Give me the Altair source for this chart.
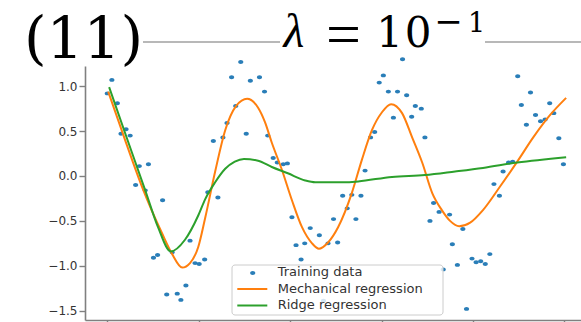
import altair as alt
import pandas as pd

# ---------------- data ----------------
train_x = [0.00, 0.10, 0.22, 0.30, 0.41, 0.50, 0.70, 0.90, 0.62, 0.83,
           1.21, 1.01, 1.10, 1.42, 1.30, 1.53, 1.61, 1.72, 1.81, 1.92,
           2.01, 2.13, 2.20, 2.42, 2.32, 2.53, 2.62, 2.81, 2.72, 2.92,
           3.13, 3.33, 3.44, 3.04, 3.51, 3.63, 3.72, 3.85, 3.94, 4.04,
           4.13, 4.32, 4.24, 4.44, 4.64, 4.73, 4.83, 4.95, 5.04, 5.15,
           5.25, 5.35, 5.44, 5.55, 5.64, 5.76, 5.85, 5.95, 6.04, 6.15,
           6.35, 6.46, 6.55, 6.26, 6.66, 6.74, 6.87, 6.95, 7.06, 7.14,
           7.26, 7.49, 7.35, 7.55, 7.66, 7.78, 7.86, 7.98, 8.07, 8.17,
           8.27, 8.37, 8.46, 8.58, 8.66, 8.78, 8.87, 8.98, 9.06, 9.17,
           9.26, 9.37, 9.48, 9.58, 9.68, 9.77, 9.88, 9.98]
train_y = [0.92, 1.07, 0.81, 0.47, 0.52, 0.45, 0.11, 0.13, -0.10, -0.16,
           -0.27, -0.91, -0.88, -0.85, -1.32, -1.31, -1.38, -1.22, -0.72, -0.97,
           -0.98, -0.93, -0.18, -0.24, 0.39, 0.43, 0.59, 0.78, 1.10, 1.27,
           1.06, 1.10, 0.94, 0.47, 0.45, 0.20, 0.15, 0.13, 0.14, -0.46,
           -0.77, -0.75, -0.93, -0.58, -0.66, -1.39, -0.75, -0.48, -0.74, -0.22,
           -0.36, -0.21, -0.48, -0.22, 0.06, 0.43, 0.49, 1.04, 1.12, 0.94,
           0.94, 1.30, 0.90, 0.65, 0.66, 0.78, 0.75, 0.43, -0.50, -0.30,
           -0.40, -0.43, -1.04, -0.76, -0.99, -0.59, -1.48, -0.92, -0.96, -0.95,
           -0.98, -0.87, -0.09, -0.22, 0.05, 0.15, 0.16, 1.11, 0.79, 0.57,
           0.93, 0.68, 0.61, 0.63, 0.81, 0.70, 0.42, 0.13]

mech_x = [0.02, 0.39, 0.76, 1.20, 1.42, 1.64, 1.81, 1.99, 2.14, 2.36,
          2.58, 2.82, 3.06, 3.30, 3.45, 3.60, 3.82, 4.04, 4.26, 4.48,
          4.63, 4.83, 5.05, 5.35, 5.57, 5.79, 6.01, 6.21, 6.45, 6.67,
          6.89, 7.11, 7.32, 7.50, 7.70, 7.94, 8.22, 8.59, 8.97, 9.32,
          9.69, 10.04]
mech_y = [0.94, 0.40, -0.12, -0.64, -0.87, -1.02, -0.97, -0.79, -0.47, 0.05,
          0.51, 0.78, 0.86, 0.76, 0.60, 0.37, 0.07, -0.27, -0.57, -0.75,
          -0.81, -0.74, -0.57, -0.19, 0.18, 0.51, 0.71, 0.80, 0.70, 0.43,
          0.15, -0.19, -0.38, -0.50, -0.56, -0.52, -0.38, -0.12, 0.16, 0.43,
          0.68, 0.87]

ridge_x = [0.04, 0.45, 0.83, 1.11, 1.39, 1.70, 1.99, 2.14, 2.36, 2.58,
           2.79, 2.99, 3.30, 3.60, 3.95, 4.33, 4.55, 4.87, 5.20, 5.49,
           6.23, 6.95, 7.61, 8.22, 8.97, 10.04]
ridge_y = [0.99, 0.39, -0.16, -0.57, -0.84, -0.71, -0.44, -0.26, -0.07, 0.08,
           0.16, 0.19, 0.17, 0.10, 0.03, -0.05, -0.07, -0.07, -0.07, -0.06,
           -0.01, 0.01, 0.05, 0.09, 0.15, 0.21]

y_ticks = [-1.5, -1.0, -0.5, 0.0, 0.5, 1.0]
x_ticks = [0, 2, 4, 6, 8, 10]
legend_labels = ["Training data", "Mechanical regression", "Ridge regression"]
panel_label = "(11)"
title_var = "λ"
title_eq = "="
title_base_digits = ["1", "0"]
title_exp_sign = "−"
title_exp_num = "1"

# ---------------- styling / layout ----------------
BLUE, ORANGE, GREEN = "#1f77b4", "#ff7f0e", "#2ca02c"
PX0, PY0 = 85, 66          # plot origin on the page
W, H = 496, 254
ELLIPSE = "M-1,0A1,0.75,0,1,0,1,0A1,0.75,0,1,0,-1,0Z"


def px(v):
    return v - PX0


def py(v):
    return v - PY0


x_scale = alt.Scale(domain=[-0.488, 10.365], nice=False, zero=False)
y_scale = alt.Scale(domain=[-1.6036, 1.2249], nice=False, zero=False)
axis_common = dict(domainColor="#808080", domainWidth=1.6, tickColor="#808080",
                   tickWidth=1.4, grid=False, title=None)

train_df = pd.DataFrame({"x": train_x, "y": train_y})
mech_df = pd.DataFrame({"x": mech_x, "y": mech_y})
ridge_df = pd.DataFrame({"x": ridge_x, "y": ridge_y})

points = alt.Chart(train_df).mark_point(
    filled=True, shape=ELLIPSE, size=27, color=BLUE, opacity=0.95
).encode(
    x=alt.X("x:Q", scale=x_scale,
            axis=alt.Axis(values=x_ticks, labels=False, tickSize=4, **axis_common)),
    y=alt.Y("y:Q", scale=y_scale,
            axis=alt.Axis(values=y_ticks, format=".1f", tickSize=6, labelPadding=2,
                          labelFont="DejaVu Sans", labelFontSize=12,
                          labelColor="#333333", labelOverlap=False, **axis_common)),
)

mech = alt.Chart(mech_df).mark_line(
    color=ORANGE, strokeWidth=2, interpolate="monotone"
).encode(x=alt.X("x:Q", scale=x_scale), y=alt.Y("y:Q", scale=y_scale))

ridge = alt.Chart(ridge_df).mark_line(
    color=GREEN, strokeWidth=2, interpolate="monotone"
).encode(x=alt.X("x:Q", scale=x_scale), y=alt.Y("y:Q", scale=y_scale))


def text_at(text, x, y, **kw):
    return alt.Chart(pd.DataFrame({"t": [text]})).mark_text(**kw).encode(
        text="t:N", x=alt.value(px(x)), y=alt.value(py(y)))


def hline(x1, x2, y, color, width):
    return alt.Chart(pd.DataFrame({"a": [0]})).mark_rule(
        color=color, strokeWidth=width
    ).encode(x=alt.value(px(x1)), x2=alt.value(px(x2)), y=alt.value(py(y)))


layers = [points, mech, ridge]

# legend (matplotlib style box)
legend_box = alt.Chart(pd.DataFrame({"a": [0]})).mark_rect(
    fill="white", fillOpacity=0.8, stroke="#cccccc", strokeWidth=1, cornerRadius=3
).encode(x=alt.value(px(232)), x2=alt.value(px(443)),
         y=alt.value(py(265)), y2=alt.value(py(315)))
layers.append(legend_box)

row_gap = 16.5
for i, lab in enumerate(legend_labels):
    base = 276 + i * row_gap
    if i == 0:
        layers.append(alt.Chart(pd.DataFrame({"a": [0]})).mark_point(
            filled=True, shape=ELLIPSE, size=27, color=BLUE, opacity=0.95
        ).encode(x=alt.value(px(252.7)), y=alt.value(py(base - 3))))
    else:
        layers.append(hline(237.3, 267.3, base - 3.5, [ORANGE, GREEN][i - 1], 2))
    layers.append(text_at(lab, 277.7, base, align="left", baseline="alphabetic",
                          font="DejaVu Sans", fontSize=13, color="#333333"))

# panel header
SERIF = "DejaVu Serif"
THIN_SERIF = "Liberation Serif"
layers.append(hline(143, 280, 42, "#a0a0a0", 1.6))
layers.append(hline(485, 581, 42, "#a0a0a0", 1.6))
layers.append(text_at(panel_label, 83.5, 58, align="center", baseline="alphabetic",
                      font=SERIF, fontSize=58, color="black"))
layers.append(text_at(title_var, 294, 47, align="center", baseline="alphabetic",
                      font=THIN_SERIF, fontStyle="italic", fontSize=48, color="black"))
layers.append(text_at(title_eq, 343.5, 54.5, align="center", baseline="alphabetic",
                      font=THIN_SERIF, fontSize=62, color="black"))
for d, cx in zip(title_base_digits, [389.5, 418]):
    layers.append(text_at(d, cx, 47, align="center", baseline="alphabetic",
                          font=SERIF, fontSize=42, color="black"))
layers.append(text_at(title_exp_sign, 448.5, 33, align="center", baseline="alphabetic",
                      font=SERIF, fontSize=34, color="black"))
layers.append(text_at(title_exp_num, 476.5, 32, align="center", baseline="alphabetic",
                      font=SERIF, fontSize=27, color="black"))

chart = alt.layer(*layers).properties(
    width=W, height=H,
    padding={"left": PX0, "top": PY0, "right": 0, "bottom": 322 - PY0 - H},
    autosize=alt.AutoSizeParams(type="none"),
    background="white",
).configure_view(stroke=None)

chart.save("out.html", embed_options={"renderer": "svg", "actions": False})
